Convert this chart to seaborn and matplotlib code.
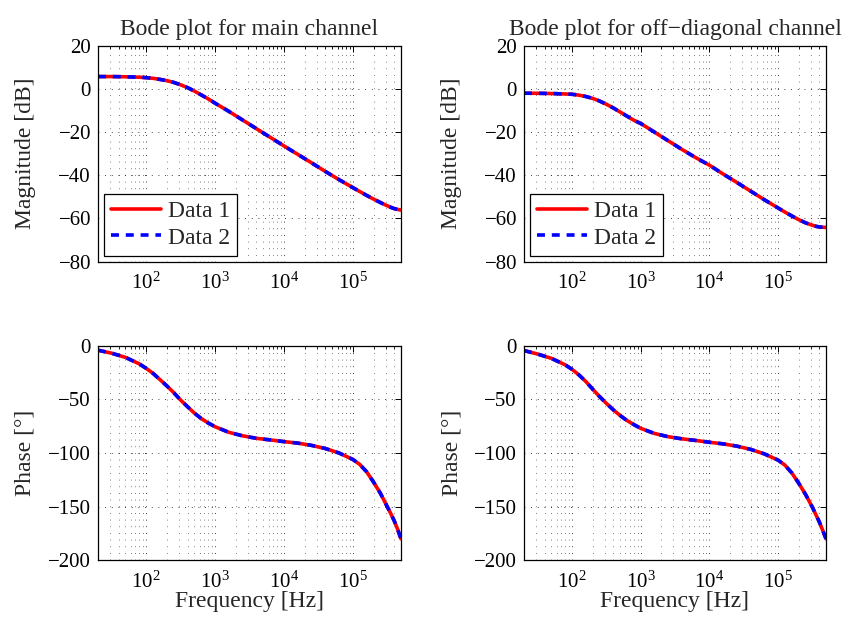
import numpy as np
import matplotlib
matplotlib.use("Agg")
import matplotlib.pyplot as plt
import seaborn as sns
from matplotlib.ticker import LogLocator, FixedLocator, NullFormatter

# ---- data ----
freq = [20, 31.6, 50.1, 79.4, 100, 126, 158, 200, 251, 316, 398, 501, 631,
        794, 1000, 1585, 2512, 3981, 6310, 10000, 15850, 25120, 39810, 63100,
        100000, 125900, 158500, 199500, 251200, 316200, 354800, 398100,
        446700, 500000]

main_mag_1 = [5.7, 5.7, 5.6, 5.4, 5.2, 4.9, 4.4, 3.8, 3.0, 1.9, 0.6, -1.0,
              -2.8, -4.6, -6.6, -10.4, -14.4, -18.4, -22.4, -26.4, -30.3,
              -34.2, -38.2, -42.0, -45.7, -47.5, -49.3, -51.0, -52.6, -54.1,
              -54.8, -55.4, -55.8, -56.1]
main_phase_1 = [-4.2, -7.0, -10.9, -16.9, -21.1, -25.8, -31.5, -37.5, -43.7,
                -50.6, -56.8, -62.8, -67.9, -72.0, -75.5, -80.7, -84.0, -86.3,
                -87.8, -89.4, -90.8, -92.9, -95.8, -100.0, -106.0, -110.6,
                -117.5, -127.0, -137.5, -150.0, -156.3, -163.0, -171.0, -180.0]
off_mag_1 = [-2.0, -2.05, -2.15, -2.35, -2.5, -2.9, -3.5, -4.4, -5.6, -7.1,
             -8.8, -10.7, -12.6, -14.5, -16.0, -20.0, -24.0, -28.0, -31.8,
             -35.3, -39.4, -43.3, -47.3, -51.3, -55.1, -57.0, -58.8, -60.5,
             -62.0, -63.1, -63.6, -63.9, -64.05, -64.1]
off_phase_1 = [-4.5, -7.8, -11.8, -17.8, -22.0, -27.2, -33.2, -40.5, -47.3,
               -53.7, -59.7, -65.0, -69.7, -73.5, -77.0, -81.8, -84.8, -86.8,
               -88.3, -90.0, -91.5, -93.6, -96.6, -100.8, -106.6, -111.3,
               -118.5, -128.0, -138.5, -150.5, -157.3, -164.0, -172.0, -180.0]

# Data 2 coincides with Data 1 in the reference
main_mag_2 = list(main_mag_1)
main_phase_2 = list(main_phase_1)
off_mag_2 = list(off_mag_1)
off_phase_2 = list(off_phase_1)

titles = ["Bode plot for main channel", "Bode plot for off\u2212diagonal channel"]
series_labels = ["Data 1", "Data 2"]
mag_ticks = [20, 0, -20, -40, -60, -80]
phase_ticks = [0, -50, -100, -150, -200]
x_ticks = [1e2, 1e3, 1e4, 1e5]

# ---- style ----
sns.set_style("white")
plt.rcParams["font.family"] = ["Liberation Serif", "DejaVu Serif"]
plt.rcParams["mathtext.fontset"] = "custom"
plt.rcParams["mathtext.rm"] = "Liberation Serif"
plt.rcParams["mathtext.it"] = "Liberation Serif:italic"
plt.rcParams["font.size"] = 15

BIG = 17
fig = plt.figure(figsize=(8.52, 6.24), dpi=100)
positions = {
    (0, 0): [0.115, 0.5806, 0.3556, 0.3462],
    (0, 1): [0.615, 0.5806, 0.3545, 0.3462],
    (1, 0): [0.115, 0.1021, 0.3556, 0.3439],
    (1, 1): [0.615, 0.1021, 0.3545, 0.3439],
}

panels = {
    (0, 0): (main_mag_1, main_mag_2),
    (0, 1): (off_mag_1, off_mag_2),
    (1, 0): (main_phase_1, main_phase_2),
    (1, 1): (off_phase_1, off_phase_2),
}

for (r, c), (d1, d2) in panels.items():
    ax = fig.add_axes(positions[(r, c)])
    ax.set_xscale("log")
    sns.lineplot(x=freq, y=d1, ax=ax, color="#ff0000", lw=2.6,
                 label=series_labels[0], estimator=None, sort=False)
    sns.lineplot(x=freq, y=d2, ax=ax, color="#0000ff", lw=2.6,
                 linestyle=(0, (2.2, 1.9)), label=series_labels[1],
                 estimator=None, sort=False)
    ax.set_xlim(20, 5e5)
    ax.xaxis.set_major_locator(FixedLocator(x_ticks))
    ax.xaxis.set_minor_locator(LogLocator(base=10, subs=np.arange(2, 10)))
    ax.xaxis.set_minor_formatter(NullFormatter())
    ax.set_xticklabels([r"$10^{%d}$" % int(np.log10(t)) for t in x_ticks])
    if r == 0:
        ax.set_ylim(-80, 20)
        ax.set_yticks(mag_ticks)
        ax.set_ylabel("Magnitude [dB]", fontsize=BIG)
        ax.set_title(titles[c], pad=8, fontsize=BIG)
        leg = ax.legend(loc="lower left", frameon=True, fancybox=False,
                        edgecolor="black", framealpha=1, borderaxespad=0.25,
                        handlelength=2.1, handletextpad=0.3,
                        borderpad=0.3, labelspacing=0.2, fontsize=BIG)
        leg.get_frame().set_linewidth(0.9)
    else:
        ax.set_ylim(-200, 0)
        ax.set_yticks(phase_ticks)
        ax.set_ylabel("Phase [\u00b0]", fontsize=BIG)
        ax.set_xlabel("Frequency [Hz]", fontsize=BIG)
        ax.xaxis.set_label_coords(0.5, -0.145)
        if ax.get_legend() is not None:
            ax.get_legend().remove()
    ax.yaxis.set_label_coords(-0.205, 0.5)
    ax.set_yticklabels([("\u2212%d" % -t) if t < 0 else "%d" % t
                        for t in ax.get_yticks()])
    ax.grid(True, which="major", axis="both", color="black", lw=0.6,
            linestyle=(0, (1, 7)))
    ax.grid(True, which="minor", axis="x", color="#555555", lw=0.6,
            linestyle=(0, (1, 7)))
    ax.tick_params(which="both", direction="in", top=True, right=True,
                   colors="black", labelsize=15)
    ax.tick_params(which="major", length=4, width=0.7, pad=5)
    ax.tick_params(axis="x", which="major", pad=8)
    ax.tick_params(which="minor", length=2, width=0.6)
    for s in ax.spines.values():
        s.set_color("black")
        s.set_linewidth(0.9)

fig.savefig("out.png", dpi=100)
